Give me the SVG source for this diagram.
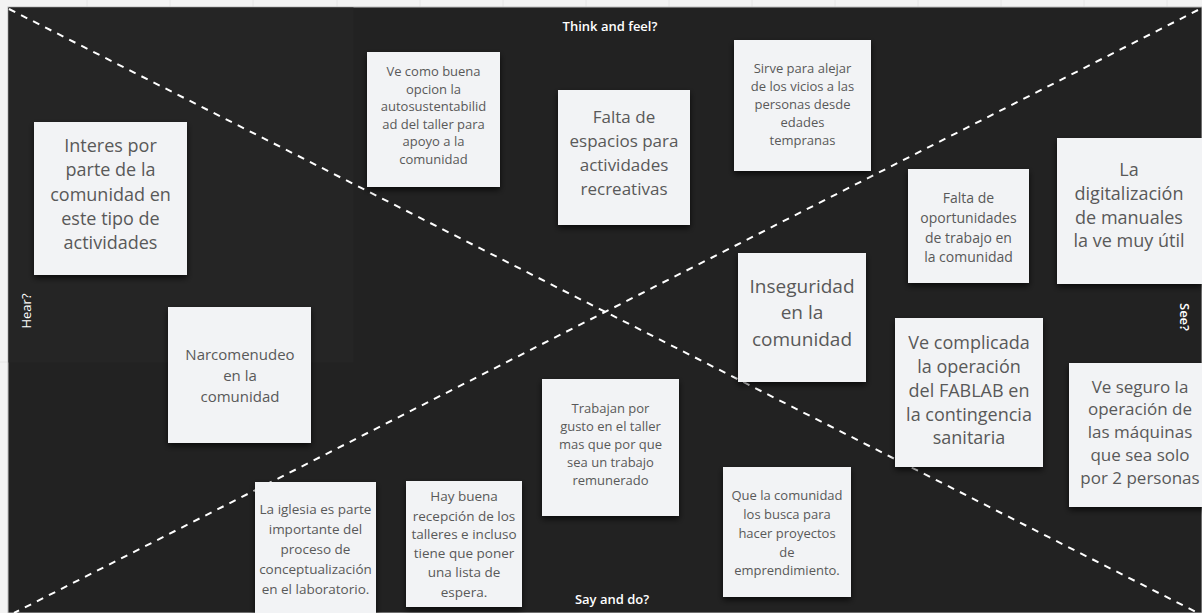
<svg xmlns="http://www.w3.org/2000/svg" width="1202" height="613" viewBox="0 0 1202 613">
<defs>
<filter id="sh" x="-10%" y="-10%" width="120%" height="130%">
<feDropShadow dx="0" dy="3" stdDeviation="3" flood-color="#000" flood-opacity="0.7"/>
</filter>
<style>
.note{fill:#f2f3f5;filter:url(#sh);}
.t{font-family:"Open Sans","Noto Sans",sans-serif;fill:#595959;text-anchor:middle;}
.lbl{font-family:"Open Sans","Noto Sans",sans-serif;fill:#ffffff;font-weight:600;font-size:13px;text-anchor:middle;}
.dash{stroke:#ffffff;stroke-width:2;stroke-dasharray:7 6.5;fill:none;}
.grid{stroke:#e6e6e6;stroke-width:1;}
</style>
</defs>
<rect x="0" y="0" width="1202" height="613" fill="#f3f3f3"/>
<g id="grid">
<line class="grid" x1="87" y1="0" x2="87" y2="7"/>
<line class="grid" x1="170" y1="0" x2="170" y2="7"/>
<line class="grid" x1="253" y1="0" x2="253" y2="7"/>
<line class="grid" x1="337" y1="0" x2="337" y2="7"/>
<line class="grid" x1="420" y1="0" x2="420" y2="7"/>
<line class="grid" x1="503" y1="0" x2="503" y2="7"/>
<line class="grid" x1="586" y1="0" x2="586" y2="7"/>
<line class="grid" x1="669" y1="0" x2="669" y2="7"/>
<line class="grid" x1="752" y1="0" x2="752" y2="7"/>
<line class="grid" x1="835" y1="0" x2="835" y2="7"/>
<line class="grid" x1="918" y1="0" x2="918" y2="7"/>
<line class="grid" x1="1001" y1="0" x2="1001" y2="7"/>
<line class="grid" x1="1084" y1="0" x2="1084" y2="7"/>
<line class="grid" x1="1167" y1="0" x2="1167" y2="7"/>
<line class="grid" x1="0" y1="362" x2="8" y2="362"/>
</g>
<g id="background">
<rect x="8" y="7" width="1194" height="606" fill="#222222" stroke="#bdbdbd" stroke-width="1"/>
<rect x="8.5" y="7.5" width="345" height="355" fill="#252525"/>
</g>
<g id="connectors">
<line class="dash" x1="9" y1="9" x2="1202" y2="615"/>
<line class="dash" x1="1198" y1="10" x2="14" y2="613"/>
</g>
<g id="labels">
<text class="lbl" x="610" y="31">Think and feel?</text>
<text class="lbl" x="612" y="604">Say and do?</text>
<text class="lbl" transform="translate(31 311) rotate(-90)" x="0" y="0" style="font-weight:400">Hear?</text>
<text class="lbl" transform="translate(1180 317) rotate(90)" x="0" y="0">See?</text>
</g>
<g id="n1">
<rect class="note" x="34" y="122" width="153" height="153"/>
<text class="t" font-size="18"><tspan x="110.5" y="152">Interes por</tspan><tspan x="110.5" y="176">parte de la</tspan><tspan x="110.5" y="201">comunidad en</tspan><tspan x="110.5" y="225">este tipo de</tspan><tspan x="110.5" y="249">actividades</tspan></text>
</g>
<g id="n2">
<rect class="note" x="367" y="52" width="133" height="135"/>
<text class="t" font-size="13"><tspan x="433.5" y="76">Ve como buena</tspan><tspan x="433.5" y="94">opcion la</tspan><tspan x="433.5" y="111">autosustentabilid</tspan><tspan x="433.5" y="129">ad del taller para</tspan><tspan x="433.5" y="146">apoyo a la</tspan><tspan x="433.5" y="164">comunidad</tspan></text>
</g>
<g id="n3">
<rect class="note" x="558" y="90" width="132" height="135"/>
<text class="t" font-size="17"><tspan x="624" y="123">Falta de</tspan><tspan x="624" y="147">espacios para</tspan><tspan x="624" y="171">actividades</tspan><tspan x="624" y="195">recreativas</tspan></text>
</g>
<g id="n4">
<rect class="note" x="734" y="40" width="137" height="131"/>
<text class="t" font-size="13"><tspan x="802.5" y="73">Sirve para alejar</tspan><tspan x="802.5" y="91">de los vicios a las</tspan><tspan x="802.5" y="109">personas desde</tspan><tspan x="802.5" y="127">edades</tspan><tspan x="802.5" y="145">tempranas</tspan></text>
</g>
<g id="n5">
<rect class="note" x="908" y="169" width="121" height="114"/>
<text class="t" font-size="14"><tspan x="968.5" y="202.5">Falta de</tspan><tspan x="968.5" y="222.5">oportunidades</tspan><tspan x="968.5" y="242.5">de trabajo en</tspan><tspan x="968.5" y="261.5">la comunidad</tspan></text>
</g>
<g id="n6">
<rect class="note" x="1057" y="138" width="145" height="146"/>
<text class="t" font-size="18"><tspan x="1129" y="176">La</tspan><tspan x="1129" y="200">digitalización</tspan><tspan x="1129" y="224">de manuales</tspan><tspan x="1129" y="247">la ve muy útil</tspan></text>
</g>
<g id="n7">
<rect class="note" x="738" y="253" width="128" height="129"/>
<text class="t" font-size="19"><tspan x="802" y="293">Inseguridad</tspan><tspan x="802" y="319">en la</tspan><tspan x="802" y="346">comunidad</tspan></text>
</g>
<g id="n8">
<rect class="note" x="895" y="318" width="148" height="149"/>
<text class="t" font-size="18"><tspan x="969" y="349">Ve complicada</tspan><tspan x="969" y="373">la operación</tspan><tspan x="969" y="397">del FABLAB en</tspan><tspan x="969" y="421">la contingencia</tspan><tspan x="969" y="444">sanitaria</tspan></text>
</g>
<g id="n9">
<rect class="note" x="1069" y="363" width="140" height="144"/>
<text class="t" font-size="17"><tspan x="1140" y="392.5">Ve seguro la</tspan><tspan x="1140" y="415">operación de</tspan><tspan x="1140" y="438">las máquinas</tspan><tspan x="1140" y="461">que sea solo</tspan><tspan x="1140" y="484">por 2 personas</tspan></text>
</g>
<g id="n10">
<rect class="note" x="168" y="307" width="143" height="136"/>
<text class="t" font-size="15"><tspan x="240" y="360">Narcomenudeo</tspan><tspan x="240" y="381">en la</tspan><tspan x="240" y="402">comunidad</tspan></text>
</g>
<g id="n11">
<rect class="note" x="542" y="379" width="137" height="137"/>
<text class="t" font-size="13"><tspan x="610.5" y="413">Trabajan por</tspan><tspan x="610.5" y="431">gusto en el taller</tspan><tspan x="610.5" y="449">mas que por que</tspan><tspan x="610.5" y="467">sea un trabajo</tspan><tspan x="610.5" y="485">remunerado</tspan></text>
</g>
<g id="n12">
<rect class="note" x="723" y="467" width="128" height="130"/>
<text class="t" font-size="13"><tspan x="787" y="500">Que la comunidad</tspan><tspan x="787" y="519">los busca para</tspan><tspan x="787" y="538">hacer proyectos</tspan><tspan x="787" y="557">de</tspan><tspan x="787" y="575">emprendimiento.</tspan></text>
</g>
<g id="n13">
<rect class="note" x="255" y="482" width="121" height="135"/>
<text class="t" font-size="13.5"><tspan x="315.5" y="514">La iglesia es parte</tspan><tspan x="315.5" y="534">importante del</tspan><tspan x="315.5" y="554">proceso de</tspan><tspan x="315.5" y="574">conceptualización</tspan><tspan x="315.5" y="594">en el laboratorio.</tspan></text>
</g>
<g id="n14">
<rect class="note" x="406" y="481" width="116" height="126"/>
<text class="t" font-size="13.5"><tspan x="464" y="501">Hay buena</tspan><tspan x="464" y="521">recepción de los</tspan><tspan x="464" y="539">talleres e incluso</tspan><tspan x="464" y="558">tiene que poner</tspan><tspan x="464" y="577">una lista de</tspan><tspan x="464" y="597">espera.</tspan></text>
</g>
</svg>
